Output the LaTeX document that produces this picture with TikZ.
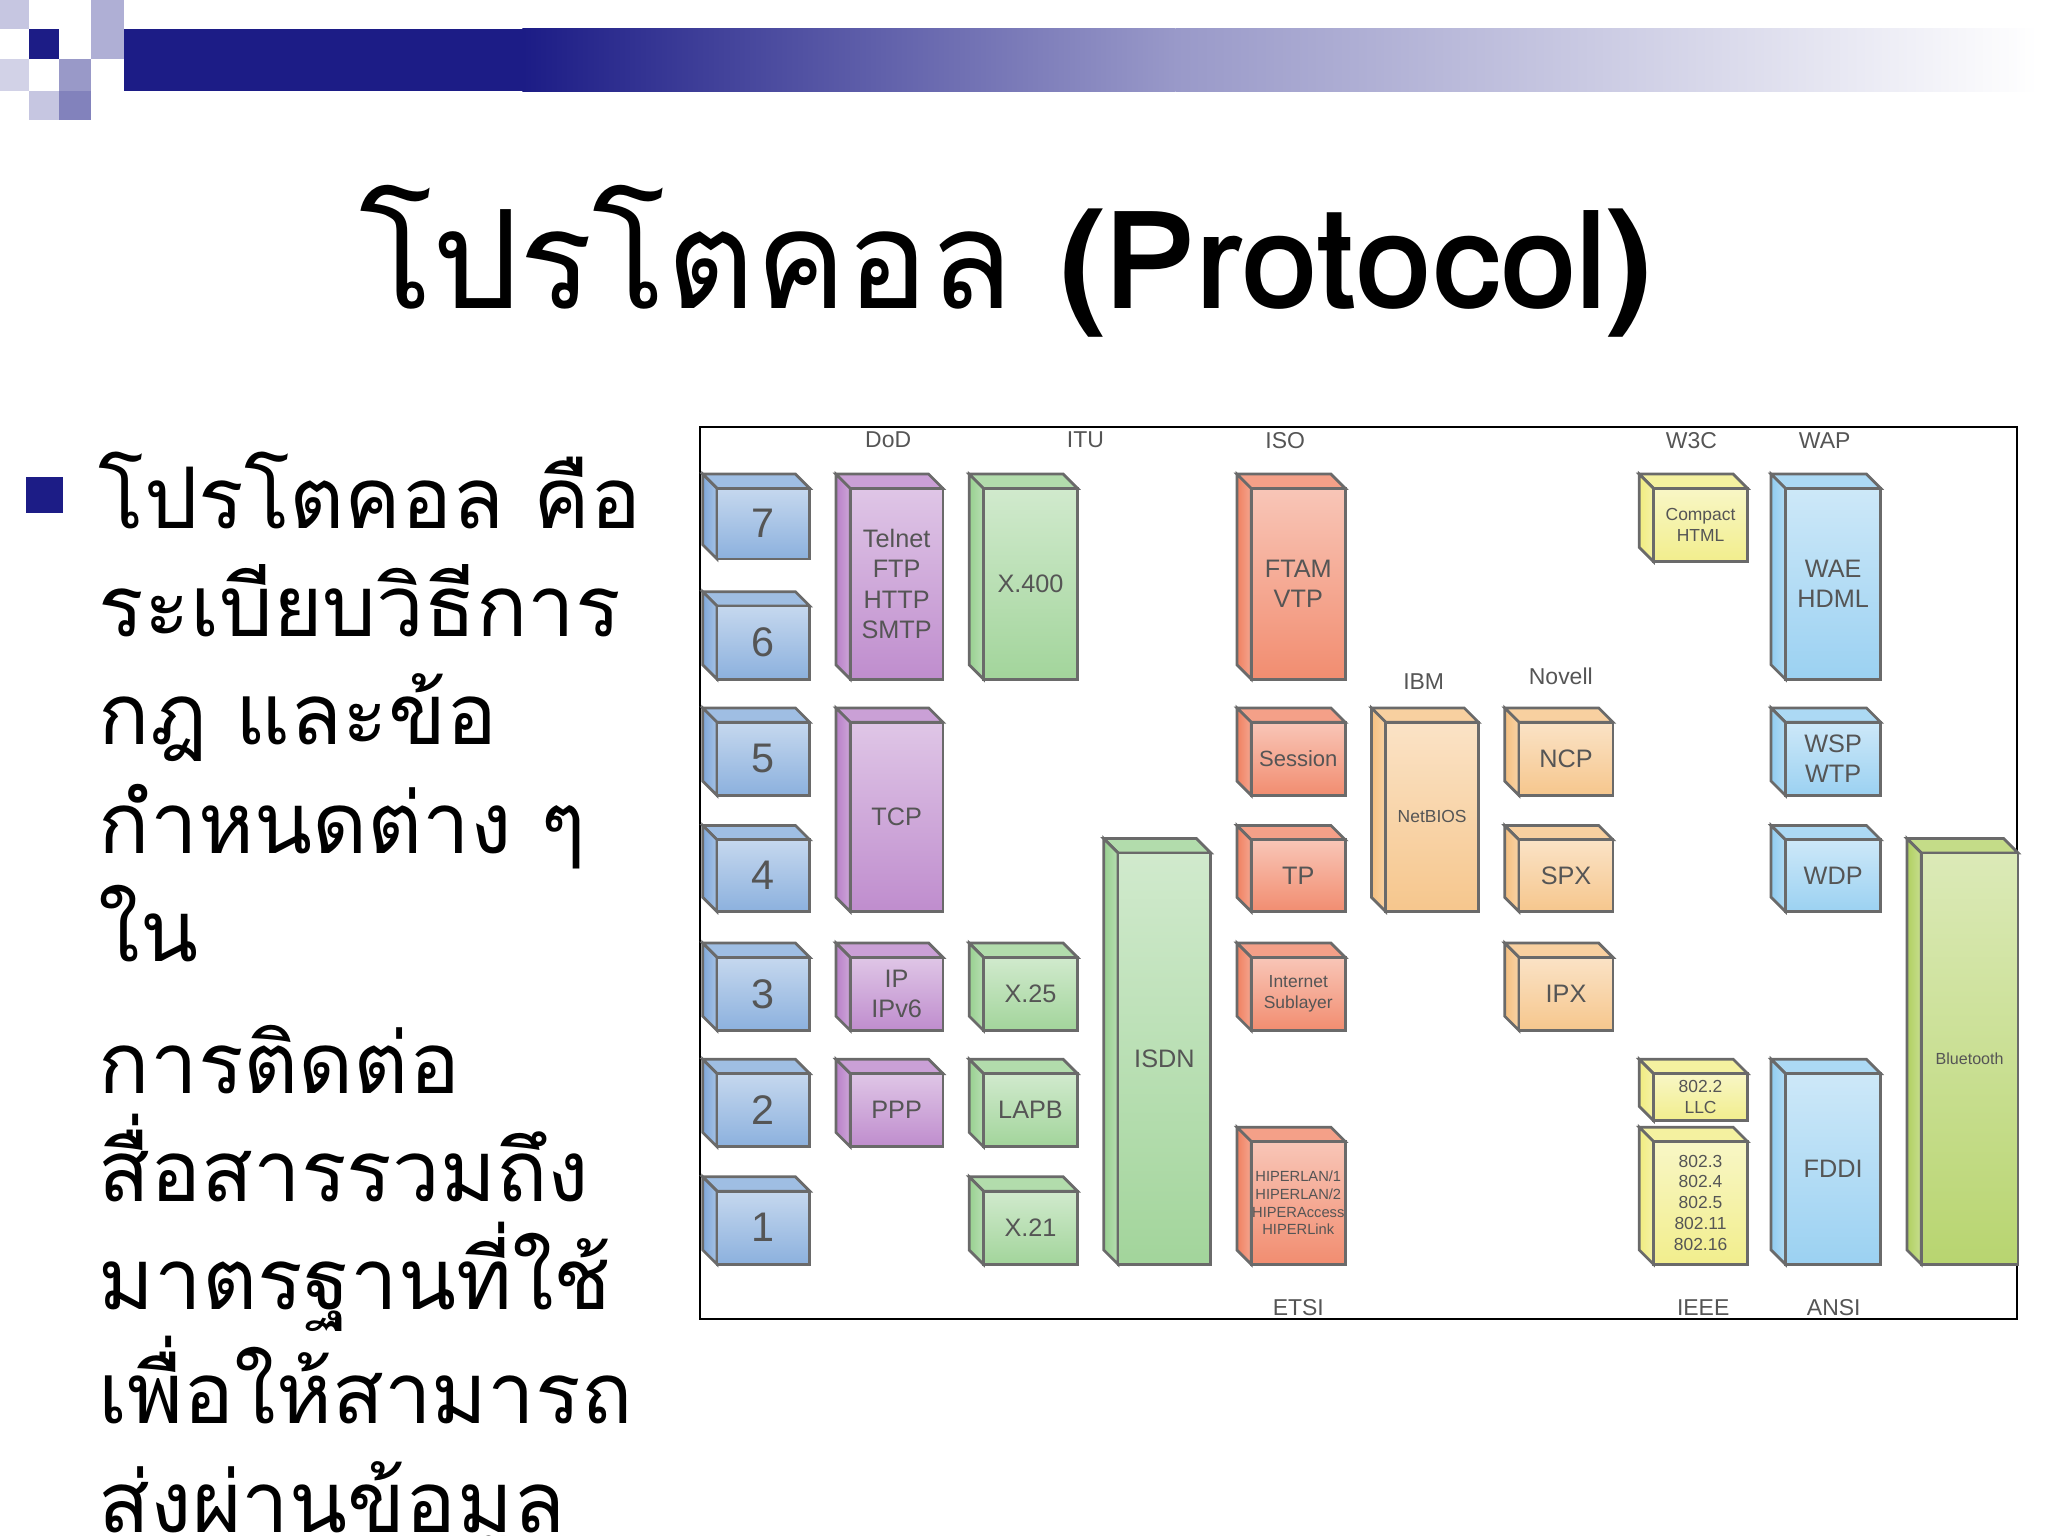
\documentclass[tikz,border=0pt]{standalone}
\usepackage{fontspec}
\setmainfont{Liberation Sans}
\newfontfamily\thaifont[Script=Thai]{Loma}
\usetikzlibrary{calc}
\definecolor{navy}{HTML}{1C1C86}
\definecolor{cLayer}{HTML}{7FA8DA}
\definecolor{cDod}{HTML}{B880C8}
\definecolor{cItu}{HTML}{98D090}
\definecolor{cIso}{HTML}{F08060}
\definecolor{cIbm}{HTML}{F5C080}
\definecolor{cW3c}{HTML}{F0EC80}
\definecolor{cWap}{HTML}{90CCF0}
\definecolor{cBt}{HTML}{B0D060}
\definecolor{edge}{HTML}{6A6A6A}
\definecolor{lbl}{HTML}{555555}
\tikzset{
  face/.style={draw=edge, line width=0.6pt},
  blabel/.style={text=lbl, align=center, inner sep=0pt},
  orglabel/.style={text=lbl, font=\fontsize{5}{6}\selectfont, inner sep=0pt},
}
% #1 name, #2 x1, #3 y1, #4 x2, #5 y2, #6 colour, #7 text, #8 size
\newcommand\blk[8]{%
  \fill[#6!75!white] (#2,#3) -- (#4-11,#3) -- (#4,#3+11) -- (#2+11,#3+11) -- cycle;
  \draw[face] (#2,#3) -- (#4-11,#3) -- (#4,#3+11) -- (#2+11,#3+11) -- cycle;
  \shade[left color=#6, right color=#6!70!white] (#2,#3) -- (#2+11,#3+11) -- (#2+11,#5) -- (#2,#5-11) -- cycle;
  \draw[face] (#2,#3) -- (#2+11,#3+11) -- (#2+11,#5) -- (#2,#5-11) -- cycle;
  \shade[top color=#6!45!white, bottom color=#6!90!white] (#2+11,#3+11) rectangle (#4,#5);
  \draw[face] (#2+11,#3+11) rectangle (#4,#5);
  \node[blabel, font=\fontsize{#8}{\dimexpr #8pt*6/5\relax}\selectfont] (#1) at ({(#2+11+#4)/2},{(#3+11+#5)/2}) {#7};
}
\begin{document}
\begin{tikzpicture}[x=0.01cm,y=-0.01cm]
\useasboundingbox (0,0) rectangle (1568,1176);
\clip (0,0) rectangle (1568,1176);
% header
\fill[navy] (95,22) rectangle (400,70);
\shade[left color=navy, right color=navy!45!white] (400,22) rectangle (900,70);
\shade[left color=navy!45!white, right color=white] (900,22) rectangle (1560,70);
\fill[navy!25!white] (0,0) rectangle (22,22);
\fill[navy!35!white] (70,0) rectangle (95,22);
\fill[navy] (22,22) rectangle (45,45);
\fill[navy!35!white] (70,22) rectangle (95,45);
\fill[navy!20!white] (0,45) rectangle (22,70);
\fill[navy!45!white] (45,45) rectangle (70,70);
\fill[navy!25!white] (22,70) rectangle (45,92);
\fill[navy!55!white] (45,70) rectangle (70,92);
% title
\node[inner sep=0pt, font=\thaifont\fontsize{29.8}{36}\selectfont] (title) at (770,200) {โปรโตคอล \textbf{(Protocol)}};
% bullet text
\fill[navy] (20,365) rectangle (48,393);
\node[anchor=north west, inner sep=0pt, align=left, font=\thaifont\fontsize{18.5}{23.6}\selectfont] (body) at (75,345) {โปรโตคอล คือ\\ ระเบียบวิธีการ\\ กฎ และข้อ\\ กำหนดต่าง ๆ\\ ใน\\[5pt] การติดต่อ\\ สื่อสารรวมถึง\\ มาตรฐานที่ใช้\\ เพื่อให้สามารถ\\ ส่งผ่านข้อมูล};
% frame
\draw[black, line width=0.5pt] (536,327) rectangle (1544,1010);
% layers
\blk{l7}{538}{363}{620}{428}{cLayer}{7}{9}
\blk{l6}{538}{453}{620}{520}{cLayer}{6}{9}
\blk{l5}{538}{542}{620}{609}{cLayer}{5}{9}
\blk{l4}{538}{632}{620}{698}{cLayer}{4}{9}
\blk{l3}{538}{722}{620}{789}{cLayer}{3}{9}
\blk{l2}{538}{811}{620}{878}{cLayer}{2}{9}
\blk{l1}{538}{901}{620}{968}{cLayer}{1}{9}
% DoD
\blk{telnet}{640}{363}{722}{520}{cDod}{Telnet\\FTP\\HTTP\\SMTP}{5.5}
\blk{tcp}{640}{542}{722}{698}{cDod}{TCP}{5.5}
\blk{ip}{640}{722}{722}{789}{cDod}{IP\\IPv6}{5.5}
\blk{ppp}{640}{811}{722}{878}{cDod}{PPP}{5.5}
% ITU
\blk{x400}{742}{363}{825}{520}{cItu}{X.400}{5.5}
\blk{x25}{742}{722}{825}{789}{cItu}{X.25}{5.5}
\blk{lapb}{742}{811}{825}{878}{cItu}{LAPB}{5.5}
\blk{x21}{742}{901}{825}{968}{cItu}{X.21}{5.5}
\blk{isdn}{845}{642}{927}{968}{cItu}{ISDN}{5.5}
% ISO / ETSI
\blk{ftam}{947}{363}{1030}{520}{cIso}{FTAM\\VTP}{5.5}
\blk{session}{947}{542}{1030}{609}{cIso}{Session}{4.8}
\blk{tp}{947}{632}{1030}{698}{cIso}{TP}{5.5}
\blk{inet}{947}{722}{1030}{789}{cIso}{Internet\\Sublayer}{3.8}
\blk{hiper}{947}{863}{1030}{968}{cIso}{HIPERLAN/1\\HIPERLAN/2\\HIPERAccess\\HIPERLink}{3.2}
% IBM
\blk{netbios}{1050}{542}{1132}{698}{cIbm}{NetBIOS}{3.8}
% Novell
\blk{ncp}{1152}{542}{1235}{609}{cIbm}{NCP}{5.5}
\blk{spx}{1152}{632}{1235}{698}{cIbm}{SPX}{5.5}
\blk{ipx}{1152}{722}{1235}{789}{cIbm}{IPX}{5.5}
% W3C, WAP
\blk{chtml}{1255}{363}{1338}{430}{cW3c}{Compact\\HTML}{3.8}
\blk{wae}{1356}{363}{1440}{520}{cWap}{WAE\\HDML}{5.5}
\blk{wsp}{1356}{542}{1440}{609}{cWap}{WSP\\WTP}{5.5}
\blk{wdp}{1356}{632}{1440}{698}{cWap}{WDP}{5.5}
% IEEE, ANSI
\blk{llc}{1255}{811}{1338}{858}{cW3c}{802.2\\LLC}{3.8}
\blk{ieee}{1255}{863}{1338}{968}{cW3c}{802.3\\802.4\\802.5\\802.11\\802.16}{3.8}
\blk{fddi}{1356}{811}{1440}{968}{cWap}{FDDI}{5.5}
\blk{bt}{1460}{642}{1545}{968}{cBt}{Bluetooth}{3.5}
% org labels
\node[orglabel] (dod) at (680,337) {DoD};
\node[orglabel] (itu) at (831,337) {ITU};
\node[orglabel] (iso) at (984,337) {ISO};
\node[orglabel] (w3c) at (1295,337) {W3C};
\node[orglabel] (wap) at (1397,337) {WAP};
\node[orglabel] (ibm) at (1090,522) {IBM};
\node[orglabel] (novell) at (1195,518) {Novell};
\node[orglabel] (etsi) at (994,1001) {ETSI};
\node[orglabel] (ieeel) at (1304,1001) {IEEE};
\node[orglabel] (ansi) at (1404,1001) {ANSI};
\end{tikzpicture}
\end{document}
